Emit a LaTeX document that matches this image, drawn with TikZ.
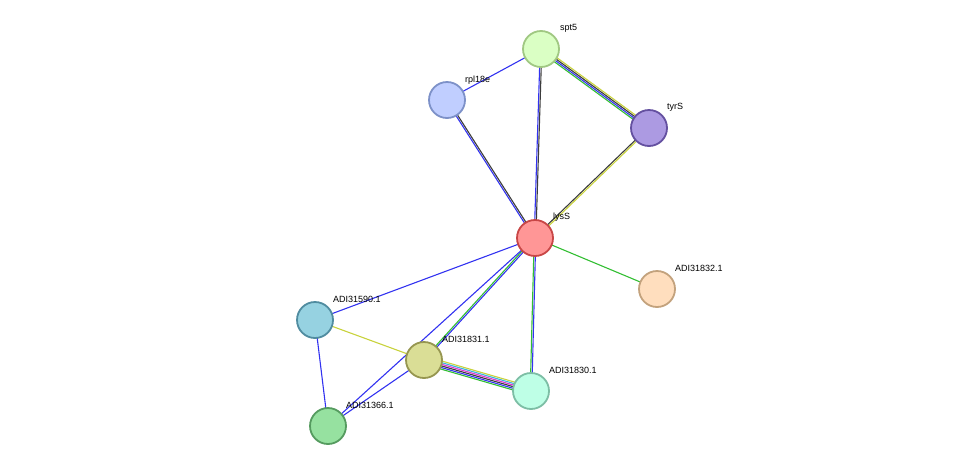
\documentclass[tikz,border=0pt]{standalone}
\usepackage{fontspec}
\setmainfont{Liberation Sans}
\usetikzlibrary{calc}
\definecolor{eblue}{RGB}{50,50,240}
\definecolor{egreen}{RGB}{50,190,50}
\definecolor{eyellow}{RGB}{200,210,60}
\definecolor{eblack}{RGB}{60,60,60}
\definecolor{emag}{RGB}{220,50,210}
\definecolor{ecyan}{RGB}{60,180,220}
% protein fills and borders
\definecolor{spt5F}{RGB}{218,255,196}\definecolor{spt5D}{RGB}{160,200,130}
\definecolor{rplF}{RGB}{192,206,255}\definecolor{rplD}{RGB}{125,145,200}
\definecolor{tyrF}{RGB}{172,154,226}\definecolor{tyrD}{RGB}{100,80,160}
\definecolor{lysF}{RGB}{255,150,150}\definecolor{lysD}{RGB}{200,70,70}
\definecolor{a32F}{RGB}{255,222,190}\definecolor{a32D}{RGB}{195,162,125}
\definecolor{a90F}{RGB}{150,210,225}\definecolor{a90D}{RGB}{80,140,160}
\definecolor{a31F}{RGB}{218,222,150}\definecolor{a31D}{RGB}{150,150,80}
\definecolor{a30F}{RGB}{190,255,230}\definecolor{a30D}{RGB}{125,190,165}
\definecolor{a66F}{RGB}{150,225,160}\definecolor{a66D}{RGB}{85,155,95}
\newcommand\stredge[3]{%
  \foreach \c/\o in {#3}
    \draw[\c, line width=1.1pt] ($(#1)!\o pt!90:(#2)$) -- ($(#2)!\o pt!-90:(#1)$);}
\tikzset{
  prot/.style={circle, minimum size=36pt, inner sep=0pt, line width=1.8pt, fill=#1F, draw=#1D},
  lbl/.style={anchor=west, font=\fontsize{9pt}{10pt}\selectfont, inner sep=0pt}
}
\begin{document}
\begin{tikzpicture}[x=1pt,y=-1pt]
\useasboundingbox (0,0) rectangle (976,472);
% positions
\coordinate (spt5) at (541,49);
\coordinate (rpl18e) at (447,100);
\coordinate (tyrS) at (649,128);
\coordinate (lysS) at (535,238);
\coordinate (a32) at (657,289);
\coordinate (a90) at (315,320);
\coordinate (a31) at (424,360);
\coordinate (a30) at (531,391);
\coordinate (a66) at (328,426);
% edges
\stredge{rpl18e}{spt5}{eblue/0}
\stredge{spt5}{tyrS}{egreen/-2.4,eblue/-0.8,eblack/0.8,eyellow/2.4}
\stredge{spt5}{lysS}{eblue/-0.8,eblack/0.8}
\stredge{rpl18e}{lysS}{eblue/-0.8,eblack/0.8}
\stredge{tyrS}{lysS}{eblack/-0.8,eyellow/0.8}
\stredge{lysS}{a32}{egreen/0}
\stredge{lysS}{a90}{eblue/0}
\stredge{lysS}{a31}{egreen/-0.8,eblue/0.8}
\stredge{lysS}{a30}{egreen/-0.8,eblue/0.8}
\stredge{lysS}{a66}{eblue/0}
\stredge{a90}{a31}{eyellow/0}
\stredge{a90}{a66}{eblue/0}
\stredge{a31}{a66}{eblue/0}
\stredge{a31}{a30}{eyellow/4,ecyan/2.4,emag/0.8,eblack/-0.8,eblue/-2.4,egreen/-4}
% proteins
\node[prot=spt5] (nspt5) at (spt5) {};
\node[prot=rpl] (nrpl18e) at (rpl18e) {};
\node[prot=tyr] (ntyrS) at (tyrS) {};
\node[prot=lys] (nlysS) at (lysS) {};
\node[prot=a32] (na32) at (a32) {};
\node[prot=a90] (na90) at (a90) {};
\node[prot=a31] (na31) at (a31) {};
\node[prot=a30] (na30) at (a30) {};
\node[prot=a66] (na66) at (a66) {};
% labels
\node[lbl] at (560,28) {spt5};
\node[lbl] at (465,80) {rpl18e};
\node[lbl] at (667,107) {tyrS};
\node[lbl] at (553,217) {lysS};
\node[lbl] at (675,268) {ADI31832.1};
\node[lbl] at (333,299) {ADI31590.1};
\node[lbl] at (442,339) {ADI31831.1};
\node[lbl] at (549,370) {ADI31830.1};
\node[lbl] at (346,405) {ADI31366.1};
\end{tikzpicture}
\end{document}
